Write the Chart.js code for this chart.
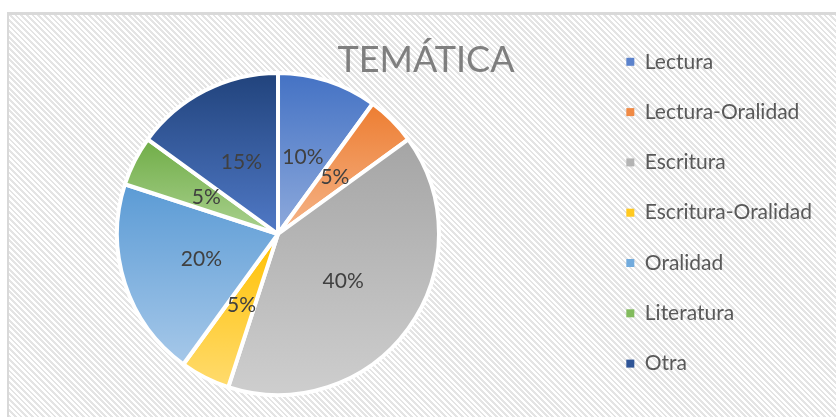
<!DOCTYPE html>
<html>
<head>
<meta charset="utf-8">
<script src="https://cdn.jsdelivr.net/npm/chart.js@4"></script>
<style>
  html, body { margin: 0; padding: 0; background: #fff; }
  #frame {
    position: absolute; left: 7px; top: 12px; width: 829px; height: 405px;
    border-top: 3px solid #d9d9d9; border-left: 2px solid #d9d9d9;
    overflow: hidden;
    background: repeating-linear-gradient(45deg, #ffffff 0px, #ffffff 2px, #e4e4e4 2px, #e4e4e4 4px);
  }
  #box { position: absolute; left: -50px; top: 7px; width: 863px; height: 424px; }
</style>
</head>
<body>
<div id="frame">
  <div id="box"><canvas id="pieChart"></canvas></div>
</div>
<script>
const chartTitle = 'TEMÁTICA';
const categories = ['Lectura', 'Lectura-Oralidad', 'Escritura', 'Escritura-Oralidad', 'Oralidad', 'Literatura', 'Otra'];
const values = [10, 5, 40, 5, 20, 5, 15];
const percentLabels = values.map(v => v + '%');

// gradient top -> bottom for every slice, plus the flat colour of the legend square
const darkColors = ['#4472c4', '#ed7d31', '#a5a5a5', '#ffc000', '#5b9bd5', '#70ad47', '#21437c'];
const lightColors = ['#8eaadc', '#f5b58a', '#cecece', '#ffdb6e', '#a6c8e9', '#aad18f', '#5079c6'];
const markerColors = ['#5b82cc', '#f08a45', '#b4b4b4', '#ffc91f', '#72abdd', '#82bb5d', '#2f5597'];

function sliceFill(context) {
    const i = context.dataIndex;
    const chart = context.chart;
    const area = chart.chartArea;
    const ctrl = chart.getDatasetMeta(0).controller;
    if (!area || !ctrl || !ctrl.outerRadius) return markerColors[i];
    const cx = (area.left + area.right) / 2;
    const cy = (area.top + area.bottom) / 2;
    const r = ctrl.outerRadius;
    const total = values.reduce((a, b) => a + b, 0);
    let before = 0;
    for (let k = 0; k < i; k++) before += values[k];
    const start = -Math.PI / 2 + 2 * Math.PI * before / total;
    const end = start + 2 * Math.PI * values[i] / total;
    let ys = [cy, cy + r * Math.sin(start), cy + r * Math.sin(end)];
    for (let a of [-Math.PI / 2, Math.PI / 2, 3 * Math.PI / 2]) {
        if (a > start && a < end) ys.push(cy + r * Math.sin(a));
    }
    const top = Math.min(...ys), bottom = Math.max(...ys);
    const g = chart.ctx.createLinearGradient(0, top, 0, bottom);
    g.addColorStop(0, darkColors[i]);
    g.addColorStop(1, lightColors[i]);
    return g;
}

const sliceLabels = {
    id: 'sliceLabels',
    afterDatasetsDraw(chart) {
        const ctx = chart.ctx;
        ctx.save();
        ctx.font = '21px Lato';
        ctx.fillStyle = '#404040';
        ctx.textAlign = 'center';
        ctx.textBaseline = 'middle';
        chart.getDatasetMeta(0).data.forEach((arc, i) => {
            const p = arc.tooltipPosition();
            ctx.fillText(percentLabels[i], p.x, p.y);
        });
        ctx.restore();
    }
};

// title sits to the right of the pie, over the legend gap
const sideTitle = {
    id: 'sideTitle',
    afterDraw(chart) {
        const ctx = chart.ctx;
        ctx.save();
        ctx.font = '36px Lato';
        ctx.fillStyle = '#7f7f7f';
        ctx.textAlign = 'center';
        ctx.textBaseline = 'alphabetic';
        ctx.fillText(chartTitle, 467, 50);
        ctx.restore();
    }
};

Chart.defaults.font.family = 'Lato';

new Chart(document.getElementById('pieChart'), {
    type: 'pie',
    data: {
        labels: categories,
        datasets: [{
            data: values,
            backgroundColor: sliceFill,
            borderColor: '#ffffff',
            borderWidth: 4,
            hoverOffset: 0
        }]
    },
    options: {
        responsive: true,
        maintainAspectRatio: false,
        animation: false,
        events: [],
        radius: 161,
        layout: { padding: 0 },
        plugins: {
            tooltip: { enabled: false },
            title: { display: false },
            legend: {
                position: 'right',
                align: 'start',
                labels: {
                    boxWidth: 8,
                    boxHeight: 8,
                    padding: 29.3,
                    color: '#595959',
                    font: { size: 21 },
                    generateLabels: () => categories.map((text, i) => ({
                        text: text,
                        fillStyle: markerColors[i],
                        strokeStyle: markerColors[i],
                        fontColor: '#595959',
                        lineWidth: 0,
                        hidden: false,
                        index: i
                    }))
                }
            }
        }
    },
    plugins: [sliceLabels, sideTitle]
});
</script>
</body>
</html>
